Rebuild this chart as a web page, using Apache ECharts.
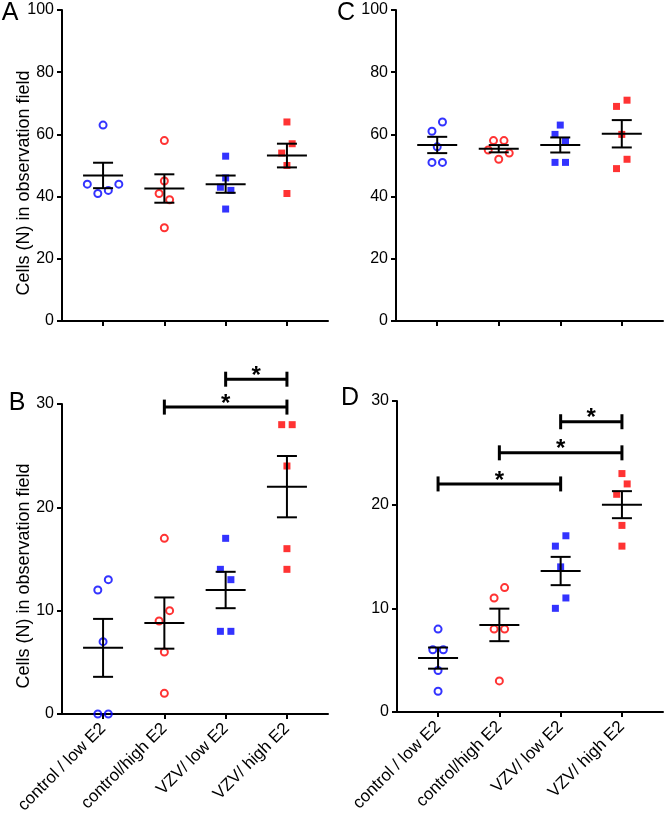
<!DOCTYPE html>
<html>
<head>
<meta charset="utf-8">
<title>Cells (N) in observation field</title>
<script src="https://cdn.jsdelivr.net/npm/echarts@6/dist/echarts.min.js"></script>
<style>
  html, body { margin: 0; padding: 0; background: #fff; }
  #chart { width: 664px; height: 815px; }
</style>
</head>
<body>
<div id="chart"></div>
<script>
// groups on the x axis
const groups = ['control / low E2', 'control/high E2', 'VZV/ low E2', 'VZV/ high E2']

// y tick labels
const topTicks = [0, 20, 40, 60, 80, 100]
const bottomTicks = [0, 10, 20, 30]

// panel A
const aCtrlLow = [63, 41, 42, 44, 44]
const aCtrlHigh = [58, 45, 41, 39, 30]
const aVzvLow = [53, 46, 43, 42, 36]
const aVzvHigh = [64, 54, 57, 50, 41]

// panel C
const cCtrlLow = [61, 64, 56, 51, 51]
const cCtrlHigh = [58, 58, 52, 55, 54]
const cVzvLow = [63, 60, 58, 51, 51]
const cVzvHigh = [69, 71, 60, 49, 52]

// panel B
const bCtrlLow = [12, 13, 7, 0, 0]
const bCtrlHigh = [17, 9, 10, 6, 2]
const bVzvLow = [17, 14, 13, 8, 8]
const bVzvHigh = [28, 28, 24, 16, 14]

// panel D
const dCtrlLow = [8, 6, 6, 4, 2]
const dCtrlHigh = [11, 12, 8, 8, 3]
const dVzvLow = [16, 17, 14, 10, 11]
const dVzvHigh = [23, 21, 22, 18, 16]

// significance brackets: from group, to group, height
const bStars = [[3, 4, 32.4], [2, 4, 29.7]]
const dStars = [[3, 4, 28], [2, 4, 25], [1, 3, 22]]

const font = '"Liberation Sans", Arial, sans-serif'
const xMin = 0.33
const xMax = 4.67
const rowGap = 11   // px, points closer than this share a row
const step = 10.5   // px between points in a row

const panels = [
  { grid: { left: 62, top: 10, width: 266, height: 311 }, sets: [aCtrlLow, aCtrlHigh, aVzvLow, aVzvHigh],
    ticks: topTicks, labels: false, letter: 'A', lx: 10, ly: 13, titleY: 183, stars: [] },
  { grid: { left: 396, top: 10, width: 267, height: 311 }, sets: [cCtrlLow, cCtrlHigh, cVzvLow, cVzvHigh],
    ticks: topTicks, labels: false, letter: 'C', lx: 346, ly: 13, titleY: null, stars: [] },
  { grid: { left: 62, top: 404, width: 266, height: 310 }, sets: [bCtrlLow, bCtrlHigh, bVzvLow, bVzvHigh],
    ticks: bottomTicks, labels: true, letter: 'B', lx: 17, ly: 403, titleY: 576, stars: bStars },
  { grid: { left: 397, top: 401, width: 266, height: 311 }, sets: [dCtrlLow, dCtrlHigh, dVzvLow, dVzvHigh],
    ticks: bottomTicks, labels: true, letter: 'D', lx: 350, ly: 398, titleY: null, stars: dStars }
]

const looks = [
  { symbol: 'circle', color: '#0000ff', open: true },
  { symbol: 'circle', color: '#ff0000', open: true },
  { symbol: 'rect', color: '#0000ff', open: false },
  { symbol: 'rect', color: '#ff0000', open: false }
]

// spread points sideways like a column scatter: close values share a row
function spread(vals, pxPerY) {
  const order = vals.map((v, i) => i).sort((a, b) => vals[a] - vals[b])
  const rows = []
  let row = null
  order.forEach(i => {
    if (!row || (vals[i] - vals[row[0]]) * pxPerY > rowGap) {
      row = [i]
      rows.push(row)
    } else {
      row.push(i)
    }
  })
  const off = []
  rows.forEach(r => {
    r.sort((a, b) => a - b)
    const slots = r.map((_, k) => k - (r.length - 1) / 2)
    slots.sort((a, b) => Math.abs(a) - Math.abs(b) || a - b)
    r.forEach((i, j) => { off[i] = slots[j] * step })
  })
  return off
}

function meanSem(vals) {
  const n = vals.length
  const m = vals.reduce((s, v) => s + v, 0) / n
  const sd = Math.sqrt(vals.reduce((s, v) => s + (v - m) * (v - m), 0) / (n - 1))
  return [m, sd / Math.sqrt(n)]
}

// mean line with SEM whiskers
function errRender(params, api) {
  const x = api.value(0), m = api.value(1), s = api.value(2)
  const c = api.coord([x, m])
  const hi = api.coord([x, m + s])
  const lo = api.coord([x, m - s])
  const style = { stroke: '#000', lineWidth: 2 }
  return {
    type: 'group',
    children: [
      { type: 'line', shape: { x1: c[0] - 20, y1: c[1], x2: c[0] + 20, y2: c[1] }, style },
      { type: 'line', shape: { x1: c[0], y1: hi[1], x2: c[0], y2: lo[1] }, style },
      { type: 'line', shape: { x1: c[0] - 10, y1: hi[1], x2: c[0] + 10, y2: hi[1] }, style },
      { type: 'line', shape: { x1: c[0] - 10, y1: lo[1], x2: c[0] + 10, y2: lo[1] }, style }
    ]
  }
}

// bracket with a star above it
function starRender(params, api) {
  const a = api.coord([api.value(0), api.value(2)])
  const b = api.coord([api.value(1), api.value(2)])
  const style = { stroke: '#000', lineWidth: 3 }
  return {
    type: 'group',
    children: [
      { type: 'line', shape: { x1: a[0], y1: a[1], x2: b[0], y2: b[1] }, style },
      { type: 'line', shape: { x1: a[0], y1: a[1] - 7.5, x2: a[0], y2: a[1] + 7.5 }, style },
      { type: 'line', shape: { x1: b[0], y1: b[1] - 7.5, x2: b[0], y2: b[1] + 7.5 }, style },
      { type: 'text', x: (a[0] + b[0]) / 2, y: a[1] - 3,
        style: { text: '*', fill: '#000', font: 'bold 24px ' + font, align: 'center', verticalAlign: 'middle' } }
    ]
  }
}

const grids = []
const xAxes = []
const yAxes = []
const series = []
const graphic = []

panels.forEach((p, k) => {
  grids.push(Object.assign({ outerBoundsMode: 'none', containLabel: false }, p.grid))
  const pxPerX = p.grid.width / (xMax - xMin)
  const yMax = p.ticks[p.ticks.length - 1]
  const pxPerY = p.grid.height / yMax

  xAxes.push({
    type: 'value', gridIndex: k, min: xMin, max: xMax,
    axisLine: { show: true, onZero: false, lineStyle: { color: '#000', width: 2 } },
    axisTick: { show: true, length: 5, customValues: [1, 2, 3, 4], lineStyle: { color: '#000', width: 2 } },
    axisLabel: {
      show: p.labels, customValues: [1, 2, 3, 4], rotate: 45, margin: 12,
      color: '#000', fontSize: 17, fontFamily: font,
      formatter: v => groups[Math.round(v) - 1]
    },
    splitLine: { show: false }
  })
  yAxes.push({
    type: 'value', gridIndex: k, min: 0, max: yMax, interval: p.ticks[1] - p.ticks[0],
    axisLine: { show: true, lineStyle: { color: '#000', width: 2 } },
    axisTick: { show: true, length: 5, lineStyle: { color: '#000', width: 2 } },
    axisLabel: { color: '#000', fontSize: 16, fontFamily: font, margin: 8 },
    splitLine: { show: false }
  })

  const bars = []
  p.sets.forEach((vals, g) => {
    const off = spread(vals, pxPerY)
    const look = looks[g]
    series.push({
      type: 'scatter', xAxisIndex: k, yAxisIndex: k,
      symbol: look.symbol, symbolSize: 7,
      itemStyle: look.open
        ? { color: 'rgba(255,255,255,0)', borderColor: look.color, borderWidth: 2 }
        : { color: look.color, borderWidth: 0 },
      data: vals.map((v, i) => [g + 1 + off[i] / pxPerX, v]),
      silent: true, z: 2
    })
    const ms = meanSem(vals)
    bars.push([g + 1, ms[0], ms[1]])
  })
  series.push({
    type: 'custom', xAxisIndex: k, yAxisIndex: k,
    renderItem: errRender, data: bars, silent: true, z: 3
  })
  if (p.stars.length) {
    series.push({
      type: 'custom', xAxisIndex: k, yAxisIndex: k, clip: false,
      renderItem: starRender, data: p.stars, silent: true, z: 3
    })
  }

  graphic.push({
    type: 'text', x: p.lx, y: p.ly,
    style: { text: p.letter, fill: '#000', font: '25px ' + font, align: 'center', verticalAlign: 'middle' }
  })
  if (p.titleY !== null) {
    graphic.push({
      type: 'text', x: 24, y: p.titleY, rotation: Math.PI / 2,
      style: { text: 'Cells (N) in observation field', fill: '#000', font: '18px ' + font, align: 'center', verticalAlign: 'middle' }
    })
  }
})

const myChart = echarts.init(document.getElementById('chart'))
myChart.setOption({
  animation: false,
  backgroundColor: '#fff',
  grid: grids,
  xAxis: xAxes,
  yAxis: yAxes,
  series: series,
  graphic: graphic
})
</script>
</body>
</html>
